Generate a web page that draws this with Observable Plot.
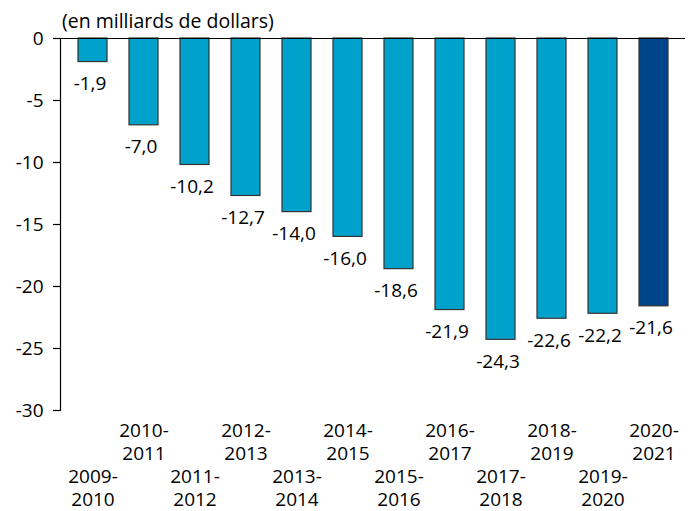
<!DOCTYPE html>
<html>
<head>
<meta charset="utf-8">
<script src="https://cdn.jsdelivr.net/npm/d3@7"></script>
<script src="https://cdn.jsdelivr.net/npm/@observablehq/plot@0.6"></script>
<style>
  body { margin: 0; background: #fff; font-family: "Open Sans", sans-serif; }
  #title { font-size: 19.5px; padding: 9px 0 0 62px; height: 24px; line-height: 24px; color: #000; white-space: nowrap; }
  #chart svg { overflow: visible; }
</style>
</head>
<body>
<div id="title">(en milliards de dollars)</div>
<div id="chart"></div>
<script>
const periodes = ["2009-2010","2010-2011","2011-2012","2012-2013","2013-2014","2014-2015","2015-2016","2016-2017","2017-2018","2018-2019","2019-2020","2020-2021"];
const soldes = [-1.9, -7.0, -10.2, -12.7, -14.0, -16.0, -18.6, -21.9, -24.3, -22.6, -22.2, -21.6];
const yTicks = [0, -5, -10, -15, -20, -25, -30];
const couleurs = ["#00A1CA", "#004589"];

const data = periodes.map((p, i) => ({
  periode: p,
  label: p.replace("-", "-\n"),
  valeur: soldes[i],
  rang: i % 2,
  derniere: i === periodes.length - 1
}));

const fmt = v => v.toFixed(1).replace(".", ",");

const chart = Plot.plot({
  width: 695,
  height: 478,
  marginTop: 5,
  marginBottom: 101,
  marginLeft: 60,
  marginRight: 10,
  style: { fontFamily: "'Open Sans', sans-serif", fontSize: "19px", color: "#000", background: "#fff", overflow: "visible" },
  x: { domain: periodes, paddingInner: 0.44, paddingOuter: 0.27, axis: null },
  y: { domain: [-30, 0], axis: null },
  marks: [
    Plot.barY(data, {
      x: "periode", y: "valeur",
      fill: d => d.derniere ? couleurs[1] : couleurs[0],
      stroke: "#333", strokeWidth: 1.2
    }),
    Plot.ruleY([0], { stroke: "#000", strokeWidth: 1.2 }),
    Plot.frame({ anchor: "left", stroke: "#000", strokeWidth: 1.2 }),
    Plot.axisY({ ticks: yTicks, tickSize: 7, tickPadding: 10, tickFormat: d => String(d), label: null, fontSize: 19, strokeWidth: 1.2 }),
    Plot.text(data, {
      x: "periode", y: "valeur", text: d => fmt(d.valeur),
      dy: 22, dx: -3, fontSize: 19, fill: "#000"
    }),
    Plot.text(data.filter(d => d.rang === 1), {
      x: "periode", text: "label", frameAnchor: "bottom", lineAnchor: "top",
      dy: 10, lineHeight: 1.23, fontSize: 19, fill: "#000"
    }),
    Plot.text(data.filter(d => d.rang === 0), {
      x: "periode", text: "label", frameAnchor: "bottom", lineAnchor: "top",
      dy: 56, lineHeight: 1.23, fontSize: 19, fill: "#000"
    })
  ]
});
document.getElementById("chart").appendChild(chart);
</script>
</body>
</html>
